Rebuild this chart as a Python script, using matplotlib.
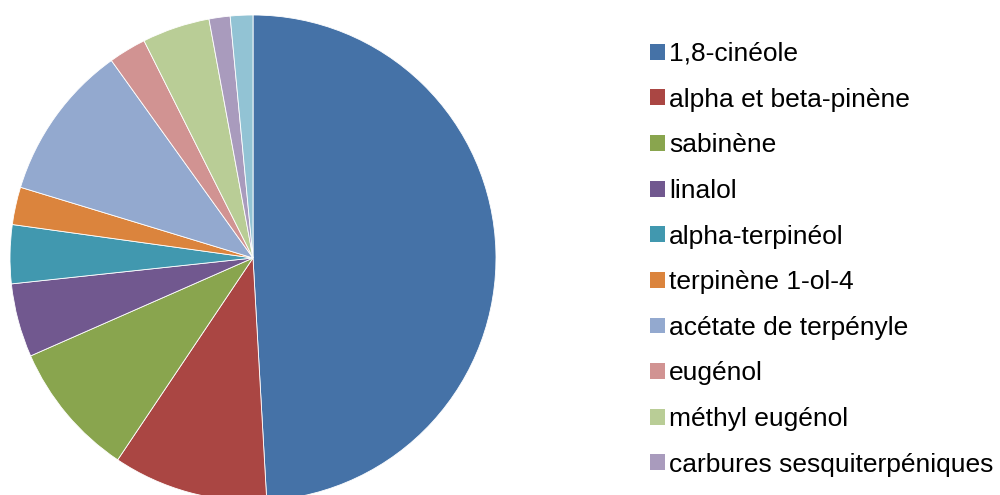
import matplotlib.pyplot as plt
from matplotlib.patches import Patch

# composition de l'huile essentielle (%)
composants = ["1,8-cinéole", "alpha et beta-pinène", "sabinène", "linalol",
              "alpha-terpinéol", "terpinène 1-ol-4", "acétate de terpényle",
              "eugénol", "méthyl eugénol", "carbures sesquiterpéniques", "autres"]
pourcentages = [49.1, 10.3, 9.0, 4.9, 3.9, 2.5, 10.4, 2.5, 4.5, 1.4, 1.5]
couleurs = ["#4572A7", "#AA4643", "#89A54E", "#71588F", "#4198AF", "#DB843D",
            "#93A9CF", "#D19392", "#B9CD96", "#A99BBD", "#92C3D4"]

plt.rcParams['font.family'] = ['Liberation Sans', 'DejaVu Sans']

fig = plt.figure(figsize=(10, 4.95), dpi=100)
ax = fig.add_axes([0.010, -0.0121, 0.486, 0.9818])
ax.pie(pourcentages, colors=couleurs, startangle=90, counterclock=False,
       radius=1.0, wedgeprops=dict(edgecolor='white', linewidth=0.6))
ax.set_xlim(-1, 1)
ax.set_ylim(-1, 1)
ax.axis('off')

# la legende n'affiche que les dix premiers composants
poignees = [Patch(facecolor=c, edgecolor='none') for c in couleurs[:10]]
fig.legend(poignees, composants[:10], loc='upper left',
           bbox_to_anchor=(0.650, 1.0 - 42 / 495), frameon=False,
           fontsize=19, handlelength=0.55, handleheight=0.55,
           handletextpad=0.18, labelspacing=0.82, borderpad=0, borderaxespad=0)

fig.savefig('out.png', dpi=100)
